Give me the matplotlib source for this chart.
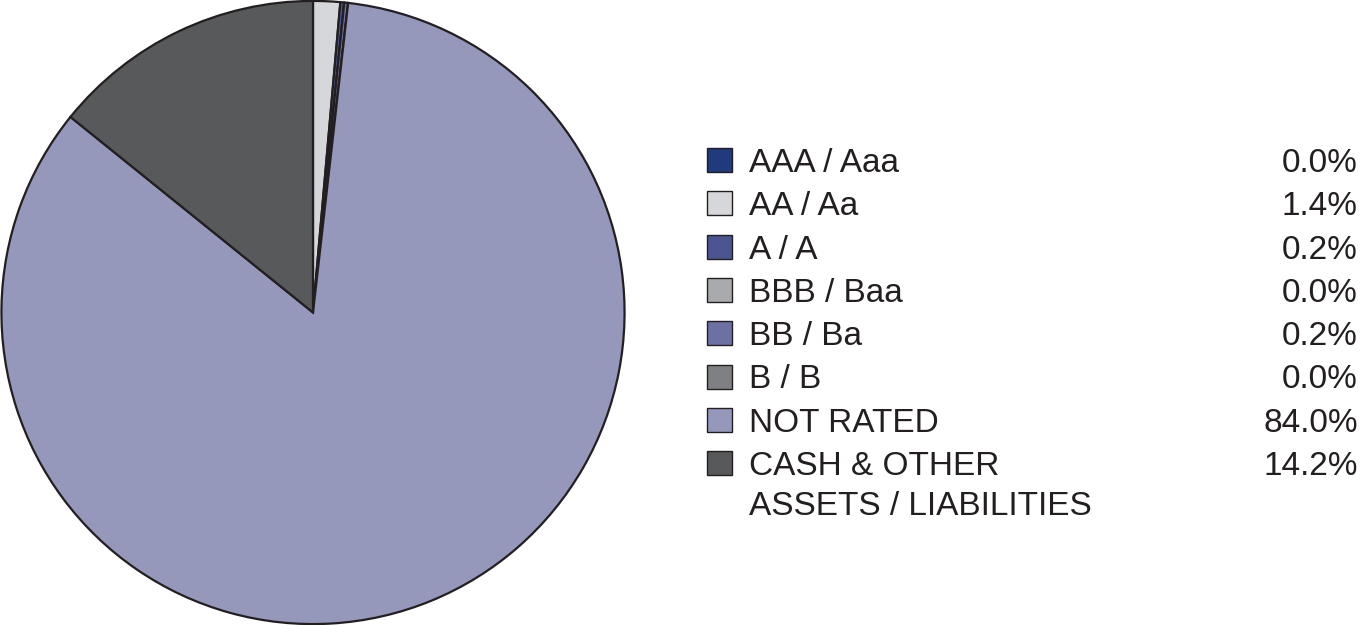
import matplotlib
matplotlib.use("Agg")
import matplotlib.pyplot as plt
import matplotlib.patches as mpatches

labels = ["AAA / Aaa", "AA / Aa", "A / A", "BBB / Baa", "BB / Ba", "B / B",
          "NOT RATED", "CASH & OTHER\nASSETS / LIABILITIES"]
values = [0.0, 1.4, 0.2, 0.0, 0.2, 0.0, 84.0, 14.2]
colors = ["#1f3b7d", "#d5d7da", "#4a5592", "#a9aaad", "#6c70a3", "#7f8083",
          "#9597bb", "#58595b"]

fig = plt.figure(figsize=(13.6, 6.25), dpi=100)
fig.patch.set_facecolor("white")

ax = fig.add_axes([0.0, 0.0, 626 / 1360, 1.0])
ax.pie(values, colors=colors, startangle=90, counterclock=False,
       wedgeprops=dict(edgecolor="#231f20", linewidth=1.6))
ax.set_aspect("equal")
ax.set_xlim(-1.003, 1.003)
ax.set_ylim(-1.003, 1.003)
ax.axis("off")

# legend drawn manually (pixel coords -> figure fractions)
W, H = 1360, 625
y0, dy = 160, 43.3
for i, (lbl, val, col) in enumerate(zip(labels, values, colors)):
    yc = y0 + i * dy
    rect = mpatches.Rectangle((707 / W, 1 - (yc + 12) / H), 25 / W, 24 / H,
                              transform=fig.transFigure, facecolor=col,
                              edgecolor="#231f20", linewidth=1.0)
    fig.patches.append(rect)
    for k, line in enumerate(lbl.split("\n")):
        fig.text(749 / W, 1 - (yc + 12 + k * 40) / H, line, fontsize=24,
                 color="#231f20", ha="left", va="baseline",
                 family="Liberation Sans")
    fig.text(1358 / W, 1 - (yc + 12) / H, f"{val:.1f}%", fontsize=24,
             color="#231f20", ha="right", va="baseline", family="Liberation Sans")

fig.savefig("out.png", dpi=100)
